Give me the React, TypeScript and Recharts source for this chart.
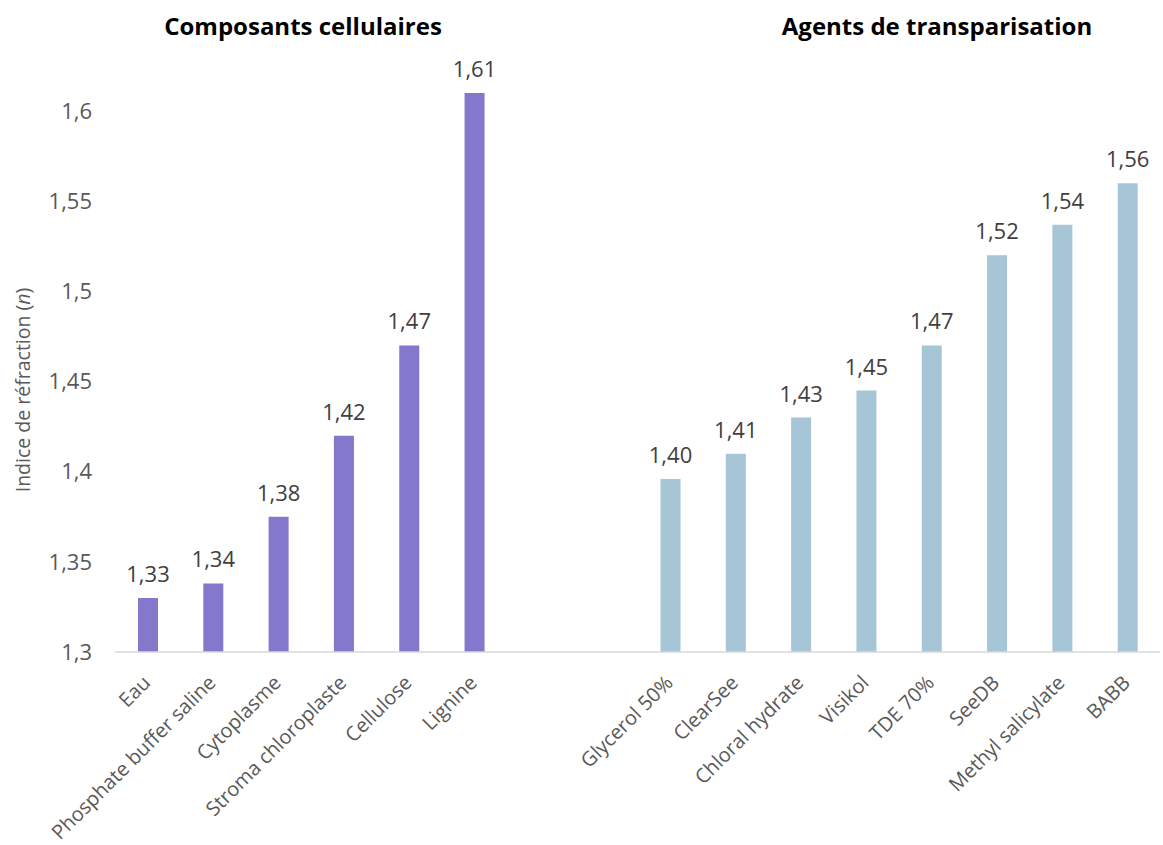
import { BarChart, Bar, XAxis, YAxis, Cell, LabelList } from 'recharts';

const categories = [
  'Eau', 'Phosphate buffer saline', 'Cytoplasme', 'Stroma chloroplaste', 'Cellulose', 'Lignine',
  ' ', '  ',
  'Glycerol 50%', 'ClearSee', 'Chloral hydrate', 'Visikol', 'TDE 70%', 'SeeDB', 'Methyl salicylate', 'BABB',
];
const values = [
  1.33, 1.338, 1.375, 1.42, 1.47, 1.61,
  null, null,
  1.396, 1.41, 1.43, 1.445, 1.47, 1.52, 1.537, 1.56,
];
const valueLabels = [
  '1,33', '1,34', '1,38', '1,42', '1,47', '1,61',
  '', '',
  '1,40', '1,41', '1,43', '1,45', '1,47', '1,52', '1,54', '1,56',
];
const groups = ['cell', 'cell', 'cell', 'cell', 'cell', 'cell', '', '', 'agent', 'agent', 'agent', 'agent', 'agent', 'agent', 'agent', 'agent'];
const yTicks = [1.3, 1.35, 1.4, 1.45, 1.5, 1.55, 1.6];

const data = categories.map((name, i) => ({ name, value: values[i], label: valueLabels[i], group: groups[i] }));

const FONT = '"Open Sans", sans-serif';
const TEXT = '#595959';

const CategoryTick = (props: any) => {
  const { x, y, payload } = props;
  const ax = x + 4;
  const ay = y + 24;
  return (
    <text
      x={ax}
      y={ay}
      transform={`rotate(-45, ${ax}, ${ay})`}
      textAnchor="end"
      fontSize={20}
      fontFamily={FONT}
      fill={TEXT}
    >
      {payload.value}
    </text>
  );
};

const YLabel = () => (
  <text
    x={30}
    y={390}
    transform="rotate(-90, 30, 390)"
    textAnchor="middle"
    fontSize={19.5}
    fontFamily={FONT}
    fill={TEXT}
  >
    Indice de réfraction (<tspan fontStyle="italic">n</tspan>)
  </text>
);

export default function App() {
  return (
    <div style={{ position: 'absolute', left: 0, top: 0, width: 1163, height: 845, background: '#fff' }}>
      <div style={{ position: 'absolute', left: 303, top: 9, transform: 'translateX(-50%)', fontFamily: FONT, fontWeight: 700, fontSize: 24, color: '#000', whiteSpace: 'nowrap' }}>
        Composants cellulaires
      </div>
      <div style={{ position: 'absolute', left: 937, top: 9, transform: 'translateX(-50%)', fontFamily: FONT, fontWeight: 700, fontSize: 24, color: '#000', whiteSpace: 'nowrap' }}>
        Agents de transparisation
      </div>
      <BarChart width={1163} height={845} data={data} margin={{ top: 75, right: 3, left: 0, bottom: 0 }}>
        <XAxis
          dataKey="name"
          interval={0}
          tick={<CategoryTick />}
          tickLine={false}
          axisLine={{ stroke: '#d9d9d9', strokeWidth: 1.5 }}
          height={193}
        />
        <YAxis
          domain={[1.3, 1.62]}
          ticks={yTicks}
          allowDataOverflow
          width={115}
          axisLine={false}
          tickLine={false}
          tickMargin={17}
          tick={{ fontSize: 22, fontFamily: FONT, fill: TEXT }}
          tickFormatter={(v: number) => String(v).replace('.', ',')}
        />
        <Bar dataKey="value" barSize={20} isAnimationActive={false}>
          {data.map((d, i) => (
            <Cell key={i} fill={d.group === 'cell' ? '#8378cc' : '#a6c6d8'} />
          ))}
          <LabelList dataKey="label" position="top" offset={16} fontSize={22} fontFamily={FONT} fill="#404040" />
        </Bar>
      </BarChart>
      <svg style={{ position: 'absolute', left: 0, top: 0, pointerEvents: 'none' }} width={1163} height={845}>
        <YLabel />
      </svg>
    </div>
  );
}
